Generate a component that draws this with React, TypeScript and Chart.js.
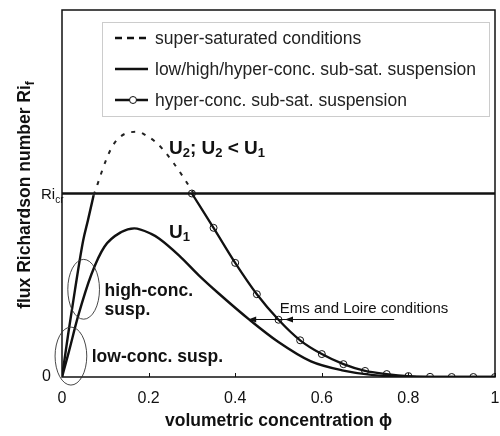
import React, { useEffect, useRef } from 'react';
import { Chart, registerables } from 'chart.js';

Chart.register(...registerables);

const FONT = '"Liberation Sans", Arial, Helvetica, sans-serif';
const INK = '#111111';

// ---- tick labels ----
const xTickValues = [0, 0.2, 0.4, 0.6, 0.8, 1];
const xTickLabels = ['0', '0.2', '0.4', '0.6', '0.8', '1'];
const yTickValues = [0];
const yTickLabels = ['0'];
const riCritical = 1;

// ---- series ----
const riLinePhi = [0, 1];

const superSatPhi = [0.073, 0.082, 0.092, 0.103, 0.117, 0.135, 0.156, 0.175, 0.195, 0.215, 0.235, 0.258, 0.28, 0.304];
const superSatRi = [0.99, 1.05, 1.12, 1.19, 1.26, 1.31, 1.333, 1.336, 1.315, 1.283, 1.235, 1.165, 1.09, 1.0];

const u2Phi = [0, 0.015, 0.03, 0.049, 0.06, 0.073];
const u2Ri = [0, 0.245, 0.475, 0.745, 0.855, 0.99];

const u1Phi = [0, 0.015, 0.037, 0.068, 0.098, 0.137, 0.167, 0.206, 0.224, 0.27, 0.316, 0.362, 0.434, 0.499, 0.575, 0.65, 0.72, 0.8, 0.9, 1.0];
const u1Ri = [0, 0.13, 0.33, 0.56, 0.71, 0.79, 0.81, 0.78, 0.755, 0.663, 0.554, 0.455, 0.31, 0.192, 0.085, 0.035, 0.01, 0.002, 0, 0];

const hyperPhi = [0.3, 0.35, 0.4, 0.45, 0.5, 0.55, 0.6, 0.65, 0.7, 0.75, 0.8, 0.85, 0.9, 0.95, 1.0];
const hyperRi = [1.0, 0.813, 0.622, 0.451, 0.312, 0.2, 0.125, 0.07, 0.033, 0.016, 0.005, 0.001, 0, 0, 0];

const legendLabels = [
  'super-saturated conditions',
  'low/high/hyper-conc. sub-sat. suspension',
  'hyper-conc. sub-sat. suspension',
];

const pts = (xs: number[], ys: number[]) => xs.map((x, i) => ({ x, y: ys[i] }));

type Part = [string, boolean];
function drawRich(ctx: CanvasRenderingContext2D, parts: Part[], x: number, y: number, size: number, subSize: number, weight: string, drop: number) {
  let cx = x;
  for (const [t, sub] of parts) {
    ctx.font = `${weight} ${sub ? subSize : size}px ${FONT}`;
    ctx.fillText(t, cx, sub ? y + drop : y);
    cx += ctx.measureText(t).width;
  }
  return cx - x;
}
function richWidth(ctx: CanvasRenderingContext2D, parts: Part[], size: number, subSize: number, weight: string) {
  let w = 0;
  for (const [t, sub] of parts) {
    ctx.font = `${weight} ${sub ? subSize : size}px ${FONT}`;
    w += ctx.measureText(t).width;
  }
  return w;
}

const decorPlugin = {
  id: 'decor',
  beforeDatasetsDraw(chart: any) {
    const { ctx, chartArea: a } = chart;
    const xs = chart.scales.x;
    ctx.save();
    ctx.strokeStyle = INK;
    ctx.lineWidth = 1.5;
    ctx.strokeRect(a.left, a.top, a.right - a.left, a.bottom - a.top);
    ctx.lineWidth = 1;
    xTickValues.forEach((v) => {
      const px = Math.round(xs.getPixelForValue(v)) + 0.5;
      ctx.beginPath();
      ctx.moveTo(px, a.bottom);
      ctx.lineTo(px, a.bottom - 4);
      ctx.stroke();
    });
    ctx.restore();
  },
  afterDraw(chart: any) {
    const { ctx } = chart;
    const xs = chart.scales.x;
    const ys = chart.scales.y;
    const X = (v: number) => xs.getPixelForValue(v);
    const Y = (v: number) => ys.getPixelForValue(v);
    ctx.save();
    ctx.fillStyle = INK;
    ctx.textBaseline = 'alphabetic';
    ctx.textAlign = 'left';

    // Ri_cr tick label
    const ry = Y(riCritical);
    drawRich(ctx, [['Ri', false], ['cr', true]], 41, ry + 5.5, 15, 10, 'normal', 4);

    // y axis title (rotated)
    const titleParts: Part[] = [['flux Richardson number Ri', false], ['f', true]];
    const tw = richWidth(ctx, titleParts, 17.5, 12, 'bold');
    ctx.save();
    ctx.translate(30, 195);
    ctx.rotate(-Math.PI / 2);
    drawRich(ctx, titleParts, -tw / 2, 0, 17.5, 12, 'bold', 4);
    ctx.restore();

    // ellipses
    ctx.strokeStyle = '#333';
    ctx.lineWidth = 0.9;
    const ell = (cx: number, cy: number, rxv: number, ryv: number) => {
      const px = X(cx), py = Y(cy);
      const rx = X(cx + rxv) - px;
      const rr = py - Y(cy + ryv);
      ctx.beginPath();
      ctx.ellipse(px, py, rx, rr, 0, 0, Math.PI * 2);
      ctx.stroke();
    };
    ell(0.05, 0.478, 0.0366, 0.163);
    ell(0.0206, 0.114, 0.0366, 0.158);

    // bold annotations
    ctx.fillStyle = INK;
    ctx.font = `bold 17.5px ${FONT}`;
    ctx.fillText('high-conc.', X(0.0984), Y(0.44));
    ctx.fillText('susp.', X(0.0984), Y(0.337));
    ctx.fillText('low-conc. susp.', X(0.0687), Y(0.0815));

    drawRich(ctx, [['U', false], ['1', true]], X(0.247), Y(0.755), 19, 13, 'bold', 3);
    drawRich(ctx, [['U', false], ['2', true], ['; U', false], ['2', true], [' < U', false], ['1', true]], X(0.247), Y(1.217), 19, 13, 'bold', 3);

    // Ems and Loire arrow
    ctx.font = `15px ${FONT}`;
    ctx.fillText('Ems and Loire conditions', X(0.503), Y(0.348));
    const ay = Math.round(Y(0.315)) + 0.5;
    const x0 = X(0.767), x1 = X(0.43), x2 = X(0.515);
    ctx.strokeStyle = INK;
    ctx.lineWidth = 1;
    ctx.beginPath();
    ctx.moveTo(x0, ay);
    ctx.lineTo(x1 + 4, ay);
    ctx.stroke();
    const head = (tx: number) => {
      ctx.beginPath();
      ctx.moveTo(tx, ay);
      ctx.lineTo(tx + 8, ay - 3);
      ctx.lineTo(tx + 8, ay + 3);
      ctx.closePath();
      ctx.fill();
    };
    head(x1);
    head(x2);

    // legend
    const lx = 102, ly = 22, lw = 387, lh = 94;
    ctx.fillStyle = '#ffffff';
    ctx.fillRect(lx, ly, lw, lh);
    ctx.strokeStyle = '#cccccc';
    ctx.lineWidth = 1;
    ctx.strokeRect(lx + 0.5, ly + 0.5, lw, lh);
    const rows = [38, 69, 100];
    ctx.strokeStyle = INK;
    // row 1 dashed
    ctx.lineWidth = 2.5;
    ctx.setLineDash([7, 5]);
    ctx.beginPath();
    ctx.moveTo(115, rows[0]);
    ctx.lineTo(148, rows[0]);
    ctx.stroke();
    ctx.setLineDash([]);
    // row 2 solid
    ctx.beginPath();
    ctx.moveTo(115, rows[1]);
    ctx.lineTo(148, rows[1]);
    ctx.stroke();
    // row 3 solid with circle
    ctx.beginPath();
    ctx.moveTo(115, rows[2]);
    ctx.lineTo(148, rows[2]);
    ctx.stroke();
    ctx.lineWidth = 1;
    ctx.fillStyle = '#ffffff';
    ctx.beginPath();
    ctx.arc(133, rows[2], 3.5, 0, Math.PI * 2);
    ctx.fill();
    ctx.stroke();
    ctx.fillStyle = '#222';
    ctx.font = `17.5px ${FONT}`;
    ctx.textBaseline = 'middle';
    legendLabels.forEach((t, i) => ctx.fillText(t, 155, rows[i] + 1));

    ctx.restore();
  },
};

export default function App() {
  const ref = useRef<HTMLCanvasElement | null>(null);
  useEffect(() => {
    document.body.style.margin = '0';
    const canvas = ref.current;
    if (!canvas) return;
    const chart = new Chart(canvas, {
      type: 'scatter',
      data: {
        datasets: [
          {
            label: legendLabels[2],
            data: pts(hyperPhi, hyperRi),
            showLine: true,
            borderColor: INK,
            borderWidth: 2.3,
            cubicInterpolationMode: 'monotone',
            pointRadius: 3.5,
            pointBorderWidth: 1,
            pointBorderColor: INK,
            pointBackgroundColor: 'rgba(0,0,0,0)',
          },
          {
            label: legendLabels[1],
            data: pts(u1Phi, u1Ri),
            showLine: true,
            borderColor: INK,
            borderWidth: 2.4,
            cubicInterpolationMode: 'monotone',
            pointRadius: 0,
          },
          {
            label: 'U2 sub-saturated',
            data: pts(u2Phi, u2Ri),
            showLine: true,
            borderColor: INK,
            borderWidth: 2.4,
            cubicInterpolationMode: 'monotone',
            pointRadius: 0,
          },
          {
            label: legendLabels[0],
            data: pts(superSatPhi, superSatRi),
            showLine: true,
            borderColor: '#222',
            borderWidth: 2,
            borderDash: [4, 7],
            cubicInterpolationMode: 'monotone',
            pointRadius: 0,
          },
          {
            label: 'Ri_cr',
            data: pts(riLinePhi, riLinePhi.map(() => riCritical)),
            showLine: true,
            borderColor: INK,
            borderWidth: 2.6,
            pointRadius: 0,
          },
        ],
      },
      options: {
        animation: false,
        responsive: false,
        devicePixelRatio: 1,
        layout: { padding: { top: 10, right: 1, left: 0, bottom: 0 } },
        plugins: { legend: { display: false }, tooltip: { enabled: false } },
        scales: {
          x: {
            type: 'linear',
            min: 0,
            max: 1,
            grid: { display: false, drawTicks: false },
            border: { display: false },
            afterBuildTicks: (s: any) => {
              s.ticks = xTickValues.map((v) => ({ value: v }));
            },
            afterFit: (s: any) => {
              s.height = 59;
              s.paddingLeft = 0;
              s.paddingRight = 0;
            },
            ticks: {
              autoSkip: false,
              maxRotation: 0,
              padding: 12,
              color: INK,
              font: { family: FONT, size: 16 },
              callback: (v: any) => {
                const i = xTickValues.findIndex((t) => Math.abs(t - Number(v)) < 1e-9);
                return i >= 0 ? xTickLabels[i] : '';
              },
            },
            title: {
              display: true,
              text: 'volumetric concentration ϕ',
              color: INK,
              font: { family: FONT, size: 17.5, weight: 'bold' },
              padding: { top: 0, bottom: 4 },
            },
          },
          y: {
            type: 'linear',
            min: 0,
            max: 2,
            grid: { display: false, drawTicks: false },
            border: { display: false },
            afterBuildTicks: (s: any) => {
              s.ticks = yTickValues.map((v) => ({ value: v }));
            },
            afterFit: (s: any) => {
              s.width = 62;
              s.paddingTop = 0;
              s.paddingBottom = 0;
            },
            ticks: {
              padding: 11,
              color: INK,
              font: { family: FONT, size: 16 },
              callback: (v: any) => {
                const i = yTickValues.findIndex((t) => Math.abs(t - Number(v)) < 1e-9);
                return i >= 0 ? yTickLabels[i] : '';
              },
            },
          },
        },
      } as any,
      plugins: [decorPlugin],
    });
    return () => chart.destroy();
  }, []);
  return (
    <div style={{ width: 500, height: 436 }}>
      <canvas ref={ref} width={500} height={436} style={{ display: 'block' }} />
    </div>
  );
}
